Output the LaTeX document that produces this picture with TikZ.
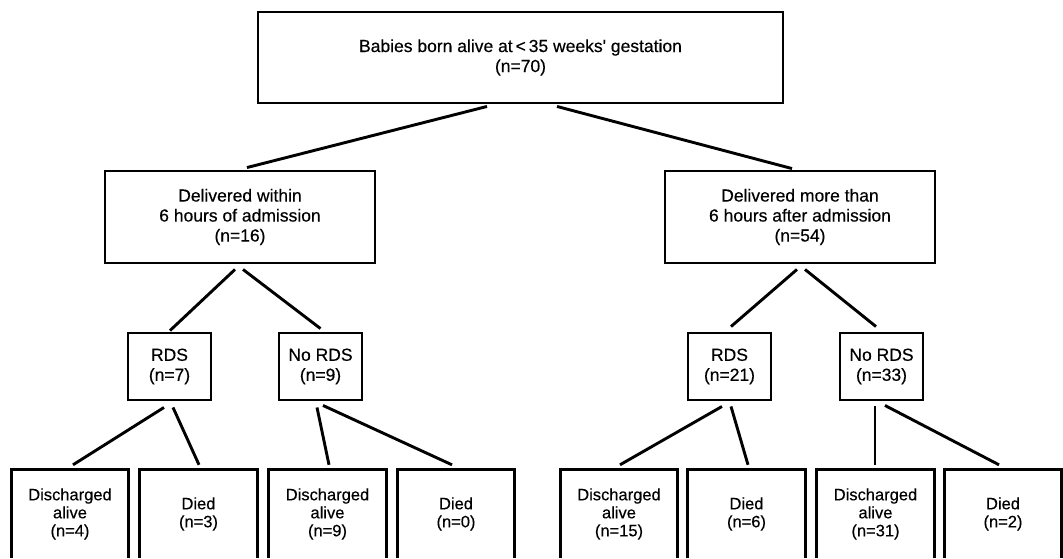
\documentclass[tikz,border=0pt]{standalone}
\usepackage{fontspec}
\setmainfont{Liberation Sans}
\newfontfamily\medfont[FakeBold=0.35]{Liberation Sans}
\begin{document}
\begin{tikzpicture}[x=1pt,y=-1pt,
  box/.style={draw, line width=2.9pt, inner sep=0pt, align=center,
    font=\medfont\fontsize{17.5}{20}\selectfont},
  leaf/.style={inner sep=0pt, align=center, minimum width=117pt,
    minimum height=88pt, font=\medfont\fontsize{16.5}{18}\selectfont},
  conn/.style={line width=2.9pt},
  leafline/.style={line width=2.9pt, line join=miter}]
\useasboundingbox (0,0) rectangle (1063,558);
\fill[white] (0,0) rectangle (1063,558);

% top
\node[box, minimum width=525pt, minimum height=91pt] (top) at (520.5,57.5)
  {Babies born alive at\,<\,35 weeks' gestation\\(n=70)};

% middle
\node[box, minimum width=270pt, minimum height=92pt] (midL) at (240,217)
  {Delivered within\\6 hours of admission\\(n=16)};
\node[box, minimum width=270pt, minimum height=92pt] (midR) at (800,217)
  {Delivered more than\\6 hours after admission\\(n=54)};

% RDS level
\node[box, minimum width=83pt, minimum height=67pt] (rdsL) at (169.5,366.5) {RDS\\(n=7)};
\node[box, minimum width=83pt, minimum height=67pt] (nordsL) at (320.5,366.5) {No RDS\\(n=9)};
\node[box, minimum width=83pt, minimum height=67pt] (rdsR) at (729.5,366.5) {RDS\\(n=21)};
\node[box, minimum width=83pt, minimum height=67pt] (nordsR) at (881.5,366.5) {No RDS\\(n=33)};

% leaves
\node[leaf] (b1) at (70,514) {Discharged\\alive\\(n=4)};
\node[leaf] (b2) at (198.5,514) {Died\\(n=3)};
\node[leaf] (b3) at (327.5,514) {Discharged\\alive\\(n=9)};
\node[leaf] (b4) at (456,514) {Died\\(n=0)};
\node[leaf] (b5) at (619,514) {Discharged\\alive\\(n=15)};
\node[leaf] (b6) at (746.5,514) {Died\\(n=6)};
\node[leaf] (b7) at (875.5,514) {Discharged\\alive\\(n=31)};
\node[leaf] (b8) at (1003,514) {Died\\(n=2)};
\foreach \n in {b1,b2,b3,b4,b5,b6,b7,b8}
  \draw[leafline] (\n.south west) |- (\n.north east) -- (\n.south east);

% connectors
\draw[conn] ([shift={(-33.5,2)}]top.south) -- ([shift={(7,-2)}]midL.north);
\draw[conn] ([shift={(36.5,2)}]top.south) -- ([shift={(-8,-1)}]midR.north);

\draw[conn] ([shift={(-5,5)}]midL.south) -- ([shift={(0.5,-1)}]rdsL.north);
\draw[conn] ([shift={(3,5)}]midL.south) -- ([shift={(0,-3)}]nordsL.north);
\draw[conn] ([shift={(-3,5)}]midR.south) -- ([shift={(1.5,-5)}]rdsR.north);
\draw[conn] ([shift={(5,5)}]midR.south) -- ([shift={(-5.5,-5)}]nordsR.north);

\draw[conn] ([shift={(-5.5,6)}]rdsL.south) -- ([shift={(3,-5)}]b1.north);
\draw[conn] ([shift={(3.5,6)}]rdsL.south) -- ([shift={(0.5,-5)}]b2.north);
\draw[conn] ([shift={(-3.5,6)}]nordsL.south) -- ([shift={(1.5,-5)}]b3.north);
\draw[conn] ([shift={(2.5,4)}]nordsL.south) -- ([shift={(-4,-5)}]b4.north);
\draw[conn] ([shift={(-7.5,5)}]rdsR.south) -- ([shift={(1,-5)}]b5.north);
\draw[conn] ([shift={(1.5,5)}]rdsR.south) -- ([shift={(1.5,-5)}]b6.north);
\draw[conn] ([shift={(-6.5,5)}]nordsR.south) -- ([shift={(-0.5,-5)}]b7.north);
\draw[conn] ([shift={(3.5,4)}]nordsR.south) -- ([shift={(-4,-5)}]b8.north);
\end{tikzpicture}
\end{document}
